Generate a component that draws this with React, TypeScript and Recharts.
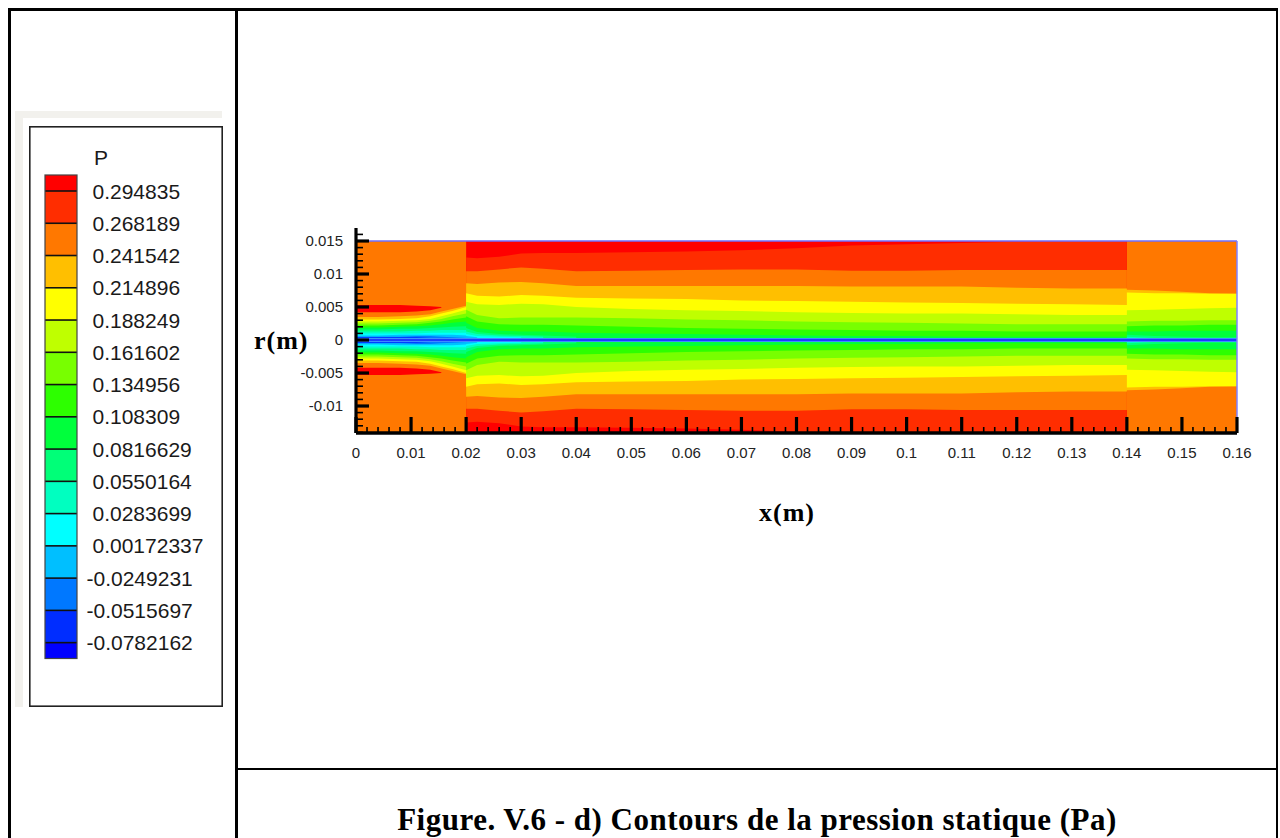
import React from 'react';
import { ComposedChart, Area, XAxis, YAxis, ReferenceLine } from 'recharts';

// ---------- legend (colour map) ----------
const BAND_COLORS = [
  '#ff0000', '#ff2d00', '#ff7800', '#ffbf00', '#ffff00', '#bfff00', '#78ff00', '#2dff00',
  '#00ff3c', '#00ff78', '#00ffc0', '#00ffff', '#00bfff', '#0078ff', '#002dff', '#0000ff',
];
const LEGEND_LABELS = [
  '0.294835', '0.268189', '0.241542', '0.214896', '0.188249', '0.161602', '0.134956',
  '0.108309', '0.0816629', '0.0550164', '0.0283699', '0.00172337', '-0.0249231',
  '-0.0515697', '-0.0782162',
];

// ---------- axes ----------
const X_MAJOR_TICKS = [0, 0.01, 0.02, 0.03, 0.04, 0.05, 0.06, 0.07, 0.08, 0.09, 0.1, 0.11, 0.12, 0.13, 0.14, 0.15, 0.16];
const X_TICK_LABELS = ['0', '0.01', '0.02', '0.03', '0.04', '0.05', '0.06', '0.07', '0.08', '0.09', '0.1', '0.11', '0.12', '0.13', '0.14', '0.15', '0.16'];
const Y_MAJOR_TICKS = [-0.01, -0.005, 0, 0.005, 0.01, 0.015];
const Y_TICK_LABELS = ['-0.01', '-0.005', '0', '0.005', '0.01', '0.015'];
const X_DOMAIN: [number, number] = [0, 0.16];
const Y_DOMAIN: [number, number] = [-0.01409, 0.01697];
const R_WALL = 0.015;

// ---------- contour field: x samples (inlet | main | outlet) ----------
const X_SAMPLES = [
  0, 0.004, 0.008, 0.011, 0.0135, 0.0155, 0.0175, 0.02,
  0.02, 0.022, 0.026, 0.03, 0.034, 0.04, 0.05, 0.06, 0.07, 0.08, 0.09, 0.1, 0.11, 0.12, 0.13, 0.14,
  0.14, 0.145, 0.15, 0.155, 0.16,
];
const _ = null;
// outer radius of each colour band (painted outer -> inner, mirrored about r = 0)
const RED = [
  0.0053, 0.0053, 0.0053, 0.0052, 0.0051, 0.005, _, _,
  0.015, 0.015, 0.015, 0.015, 0.015, 0.015, 0.015, 0.015, 0.015, 0.015, 0.015, 0.015, 0.015, 0.015, 0.015, 0.015,
  _, _, _, _, _,
];
const ORANGE_RED = [
  _, _, _, _, _, _, _, _,
  0.0125, 0.0124, 0.0126, 0.0131, 0.0132, 0.0132, 0.0133, 0.0134, 0.0136, 0.0139, 0.0143, 0.0145, 0.0147, 0.0149, 0.015, 0.015,
  _, _, _, _, _,
];
const ORANGE = [
  0.0042, 0.0042, 0.0042, 0.0043, 0.0045, 0.0049, 0.0052, 0.0053,
  0.0104, 0.0104, 0.0107, 0.011, 0.0108, 0.0104, 0.0105, 0.0106, 0.0107, 0.0107, 0.0105, 0.0105, 0.0106, 0.0106, 0.0106, 0.0106,
  _, _, _, _, _,
];
const AMBER = [
  0.0035, 0.0035, 0.0036, 0.0037, 0.0039, 0.0043, 0.0047, 0.0052,
  0.0086, 0.0085, 0.0087, 0.0088, 0.0086, 0.0082, 0.0082, 0.0082, 0.0082, 0.0082, 0.0081, 0.0081, 0.0081, 0.0079, 0.0078, 0.0078,
  0.0076, 0.0075, 0.0073, 0.0071, 0.007,
];
const YELLOW = [
  0.0031, 0.0031, 0.0032, 0.0033, 0.0036, 0.004, 0.0044, 0.005,
  0.0071, 0.0067, 0.0066, 0.0068, 0.0067, 0.0064, 0.0063, 0.0062, 0.006, 0.0059, 0.0058, 0.0057, 0.0056, 0.0055, 0.0054, 0.0053,
  0.0072, 0.0071, 0.0071, 0.007, 0.007,
];
const YELLOW_GREEN = [
  0.0028, 0.0028, 0.0029, 0.003, 0.0032, 0.0036, 0.004, 0.0046,
  0.0058, 0.0054, 0.0053, 0.0055, 0.0054, 0.005, 0.0047, 0.0045, 0.0044, 0.0042, 0.0041, 0.004, 0.004, 0.0039, 0.0038, 0.0038,
  0.0045, 0.0046, 0.0047, 0.0048, 0.0049,
];
const LIME = [
  0.0025, 0.0025, 0.0026, 0.0027, 0.0029, 0.0032, 0.0036, 0.004,
  0.0046, 0.0038, 0.0033, 0.0034, 0.0034, 0.0034, 0.0033, 0.0031, 0.003, 0.0028, 0.0027, 0.0026, 0.0025, 0.0024, 0.0024, 0.0024,
  0.0028, 0.0029, 0.0029, 0.003, 0.003,
];
const BRIGHT_GREEN = [
  0.0022, 0.0022, 0.0023, 0.0024, 0.0026, 0.0028, 0.0031, 0.0034,
  0.0036, 0.0028, 0.0024, 0.0023, 0.0023, 0.0022, 0.002, 0.0018, 0.0017, 0.0016, 0.0015, 0.0014, 0.0014, 0.0013, 0.0013, 0.0013,
  0.0021, 0.0022, 0.0022, 0.0023, 0.0023,
];
const GREEN = [
  0.0019, 0.0019, 0.002, 0.0021, 0.0022, 0.0024, 0.0026, 0.0028,
  0.0026, 0.0018, 0.0014, 0.0013, 0.0013, 0.0011, 0.001, 0.0009, 0.0008, 0.0007, 0.0006, 0.0006, 0.0005, 0.0005, 0.0005, 0.0005,
  0.0013, 0.0013, 0.0014, 0.0014, 0.0014,
];
const SPRING_GREEN = [
  0.0016, 0.0016, 0.0017, 0.0017, 0.0018, 0.0019, 0.002, 0.0021,
  0.0018, 0.0012, 0.0009, 0.0008, 0.0007, 0.0005, _, _, _, _, _, _, _, _, _, _,
  0.0008, 0.0006, 0.0005, 0.0004, 0.0004,
];
const AQUA = [
  0.0013, 0.0013, 0.0013, 0.0014, 0.0014, 0.0015, 0.0015, 0.0015,
  0.0013, 0.0009, 0.0007, 0.0006, 0.0005, _, _, _, _, _, _, _, _, _, _, _,
  0.0005, 0.0003, _, _, _,
];
const CYAN = [
  0.001, 0.001, 0.001, 0.001, 0.0011, 0.0011, 0.0011, 0.0011,
  0.0009, 0.0006, 0.0005, 0.0004, _, _, _, _, _, _, _, _, _, _, _, _,
  _, _, _, _, _,
];
const SKY = [
  0.0007, 0.0007, 0.0008, 0.0008, 0.0008, 0.0008, 0.0008, 0.0007,
  0.0006, 0.0004, _, _, _, _, _, _, _, _, _, _, _, _, _, _,
  _, _, _, _, _,
];
const AZURE = [
  0.0005, 0.0005, 0.0005, 0.0006, 0.0006, 0.0005, 0.0004, 0.0003,
  _, _, _, _, _, _, _, _, _, _, _, _, _, _, _, _,
  _, _, _, _, _,
];
const BLUE = [
  0.0004, 0.0004, 0.0004, 0.0004, 0.0003, _, _, _,
  _, _, _, _, _, _, _, _, _, _, _, _, _, _, _, _,
  _, _, _, _, _,
];
const DEEP_BLUE = [
  0.0002, 0.0002, 0.0002, 0.0001, _, _, _, _,
  _, _, _, _, _, _, _, _, _, _, _, _, _, _, _, _,
  _, _, _, _, _,
];

const BANDS: (number | null)[][] = [
  RED, ORANGE_RED, ORANGE, AMBER, YELLOW, YELLOW_GREEN, LIME, BRIGHT_GREEN,
  GREEN, SPRING_GREEN, AQUA, CYAN, SKY, AZURE, BLUE, DEEP_BLUE,
];

const DATA = X_SAMPLES.map((x, j) => {
  const row: Record<string, any> = { x, base: [-R_WALL, R_WALL] };
  BANDS.forEach((arr, k) => {
    const v = arr[j];
    row['b' + k] = v == null ? null : [-v, v];
  });
  return row;
});

const Y_ALL_TICKS: number[] = [];
for (let i = -14; i <= 16; i++) Y_ALL_TICKS.push(i / 1000);
const X_ALL_TICKS: number[] = [];
for (let i = 0; i <= 80; i++) X_ALL_TICKS.push(i / 500);

const SANS = '"Liberation Sans", Arial, Helvetica, sans-serif';
const SERIF = '"Liberation Serif", "Times New Roman", serif';

const YTick = (props: any) => {
  const { x, y, payload } = props;
  const v = payload.value;
  const idx = Y_MAJOR_TICKS.findIndex((t) => Math.abs(t - v) < 1e-9);
  const major = idx >= 0;
  return (
    <g>
      <line x1={x} x2={x + (major ? 13 : 7)} y1={y} y2={y} stroke="#000" strokeWidth={major ? 3.2 : 1.6} />
      {major && (
        <text x={x - 13} y={y} dy="0.36em" textAnchor="end" fontSize={15} fontFamily={SANS} fill="#222">
          {Y_TICK_LABELS[idx]}
        </text>
      )}
    </g>
  );
};

const XTick = (props: any) => {
  const { x, y, payload } = props;
  const v = payload.value;
  const idx = X_MAJOR_TICKS.findIndex((t) => Math.abs(t - v) < 1e-9);
  const major = idx >= 0;
  return (
    <g>
      <line x1={x} x2={x} y1={y} y2={y - (major ? 16 : 6)} stroke="#000" strokeWidth={major ? 3.2 : 1.6} />
      {major && (
        <text x={x} y={y + 20} dy="0.36em" textAnchor="middle" fontSize={15} fontFamily={SANS} fill="#222">
          {X_TICK_LABELS[idx]}
        </text>
      )}
    </g>
  );
};

const abs = (left: number, top: number, w: number, h: number, bg: string): React.CSSProperties => ({
  position: 'absolute', left, top, width: w, height: h, background: bg,
});

const LEG_TOP = 175;
const LEG_FIRST = 191;
const LEG_STEP = 32.26;
const LEG_BOTTOM = 658.5;

function Legend() {
  const bounds: number[] = [LEG_TOP];
  for (let i = 0; i < LEGEND_LABELS.length; i++) bounds.push(LEG_FIRST + i * LEG_STEP);
  bounds.push(LEG_BOTTOM);
  return (
    <svg style={{ position: 'absolute', left: 0, top: 0 }} width={240} height={720}>
      <rect x={15} y={111} width={207} height={596} fill="#f2f1ed" />
      <rect x={23} y={118} width={199} height={589} fill="#ffffff" />
      <rect x={29.8} y={126.8} width={192.4} height={579.4} fill="#ffffff" stroke="#222" strokeWidth={1.6} />
      <text x={94} y={157.5} dy="0.36em" fontSize={21} fontFamily={SANS} fill="#1a1a1a">P</text>
      {BAND_COLORS.map((c, i) => (
        <rect key={c} x={45} y={bounds[i]} width={32} height={bounds[i + 1] - bounds[i]} fill={c} />
      ))}
      {bounds.slice(1, -1).map((b, i) => (
        <line key={i} x1={45} x2={77} y1={b} y2={b} stroke="#111" strokeWidth={1.6} />
      ))}
      <rect x={45} y={LEG_TOP} width={32} height={LEG_BOTTOM - LEG_TOP} fill="none" stroke="#444" strokeWidth={1.2} />
      {LEGEND_LABELS.map((l, i) => (
        <text key={l} x={l.startsWith('-') ? 86.5 : 92.5} y={LEG_FIRST + i * LEG_STEP} dy="0.36em"
          fontSize={21} fontFamily={SANS} fill="#1a1a1a">{l}</text>
      ))}
    </svg>
  );
}

export default function App() {
  return (
    <div style={{ position: 'absolute', left: 0, top: 0, width: 1280, height: 838, overflow: 'hidden', background: '#fff' }}>
      {/* table frame */}
      <div style={abs(8, 8, 1270, 2.5, '#000')} />
      <div style={abs(8, 8, 2.5, 840, '#000')} />
      <div style={abs(235, 8, 2.5, 840, '#000')} />
      <div style={abs(1275.5, 8, 2.5, 840, '#000')} />
      <div style={abs(235, 767.5, 1043, 2.5, '#000')} />

      <Legend />

      <div style={{ position: 'absolute', left: 240, top: 200 }}>
        <ComposedChart width={1017} height={283} data={DATA} margin={{ top: 28, right: 20, bottom: 10, left: 56 }}>
          <Area dataKey="base" type="linear" stroke="none" fill="#ff7800" fillOpacity={1} isAnimationActive={false} dot={false} activeDot={false} />
          {BAND_COLORS.map((c, k) => (
            <Area key={k} dataKey={'b' + k} type="linear" stroke="none" fill={c} fillOpacity={1}
              isAnimationActive={false} dot={false} activeDot={false} connectNulls={false} />
          ))}
          <ReferenceLine y={0} stroke="#3d8bff" strokeWidth={4} />
          <ReferenceLine y={0} stroke="#1020ff" strokeWidth={1.5} />
          <ReferenceLine y={R_WALL} stroke="#6f6fff" strokeWidth={1.5} />
          <ReferenceLine segment={[{ x: 0.16, y: Y_DOMAIN[0] }, { x: 0.16, y: R_WALL }]} stroke="#8080ff" strokeWidth={1.5} />
          <XAxis type="number" dataKey="x" domain={X_DOMAIN} allowDataOverflow ticks={X_ALL_TICKS} interval={0}
            tickSize={0} tickMargin={0} tick={<XTick />} axisLine={{ stroke: '#000', strokeWidth: 3.5 }} height={40} />
          <YAxis type="number" domain={Y_DOMAIN} allowDataOverflow ticks={Y_ALL_TICKS} interval={0}
            tickSize={0} tickMargin={0} tick={<YTick />} axisLine={{ stroke: '#000', strokeWidth: 3.2 }} width={60} />
        </ComposedChart>
      </div>

      {/* axis titles */}
      <div style={{ position: 'absolute', left: 254, top: 325, fontFamily: SERIF, fontWeight: 'bold', fontSize: 26, letterSpacing: 1, lineHeight: '32px', color: '#000' }}>r(m)</div>
      <div style={{ position: 'absolute', left: 737, top: 497, width: 100, textAlign: 'center', fontFamily: SERIF, fontWeight: 'bold', fontSize: 26, letterSpacing: 1, lineHeight: '32px', color: '#000' }}>x(m)</div>

      {/* caption */}
      <div style={{ position: 'absolute', left: 237, top: 804, width: 1040, textAlign: 'center', fontFamily: SERIF, fontWeight: 'bold', fontSize: 31, letterSpacing: 0.5, lineHeight: '31px', color: '#000', whiteSpace: 'nowrap' }}>
        Figure. V.6 - d) Contours de la pression statique (Pa)
      </div>
    </div>
  );
}
